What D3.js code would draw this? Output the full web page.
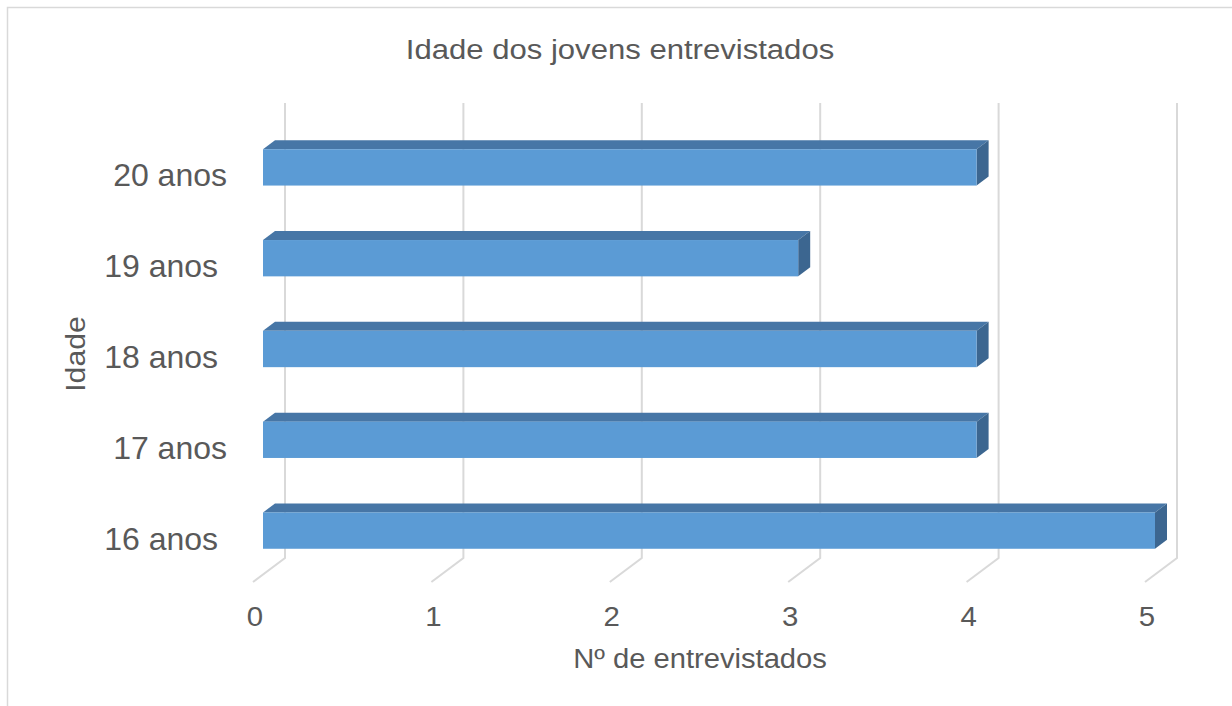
<!DOCTYPE html>
<html>
<head>
<meta charset="utf-8">
<script src="https://cdn.jsdelivr.net/npm/d3@7"></script>
<style>
  html, body { margin: 0; padding: 0; background: #fff; }
  svg { display: block; font-family: "Liberation Sans", Arial, sans-serif; }
</style>
</head>
<body>
<svg id="chart" width="1232" height="706"></svg>
<script>
// ---- data ----
const categories = ["16 anos", "17 anos", "18 anos", "19 anos", "20 anos"];
const categoryLabels = ["16 anos\u00a0", "17 anos", "18 anos\u00a0", "19 anos\u00a0", "20 anos"];
const values = [5, 4, 4, 3, 4];
const tickValues = [0, 1, 2, 3, 4, 5];
const chartTitle = "Idade dos jovens entrevistados";
const xTitle = "Nº de entrevistados";
const yTitle = "Idade";

// ---- layout ----
const svg = d3.select("#chart");
const textColor = "#595959";
const gridColor = "#d9d9d9";
const depthX = -32, depthY = 24;          // back wall -> front floor edge
const wallTop = 104, wallBottom = 558;

svg.append("rect").attr("x", 7.5).attr("y", 7.5).attr("width", 1240).attr("height", 720)
  .attr("fill", "#fff").attr("stroke", gridColor).attr("stroke-width", 1.5);

const x = d3.scaleLinear().domain([0, 5]).range([285, 1177]);
const y = d3.scaleBand().domain(categories.slice().reverse()).range([wallTop, wallBottom]);

// gridlines on back wall + floor diagonals
const grid = svg.append("g").attr("stroke", gridColor).attr("stroke-width", 2).attr("fill", "none");
tickValues.forEach(t => {
  const bx = x(t);
  grid.append("path").attr("d", `M${bx},${wallTop - 1}L${bx},${wallBottom}L${bx + depthX},${wallBottom + depthY}`);
});

// tick labels (front edge of floor)
svg.append("g").selectAll("text").data(tickValues).join("text")
  .attr("transform", d => `translate(${x(d) + depthX + 2},626) scale(1.05,1)`)
  .attr("text-anchor", "middle").attr("fill", textColor)
  .style("font-size", "28px").text(d => d);

// bars (3D)
const fFront = 22 / 32, fBack = 10 / 32;
const fx = depthX * fFront, fy = depthY * fFront;
const bxo = depthX * fBack, byo = depthY * fBack;
const barThick = y.bandwidth() * 0.4;
const bars = svg.append("g");
categories.forEach((c, i) => {
  const v = values[i];
  const top = y(c) + (y.bandwidth() - barThick) / 2 + 1.5;
  const x0f = x(0) + fx, x1f = x(v) + fx;
  const y0f = top + fy, y1f = top + fy + barThick;
  const x0b = x(0) + bxo, x1b = x(v) + bxo;
  const y0b = top + byo, y1b = top + byo + barThick;
  // top face
  bars.append("path").attr("d", `M${x0f},${y0f}L${x0b},${y0b}L${x1b},${y0b}L${x1f},${y0f}Z`)
    .attr("fill", "#4776a6");
  // side face
  bars.append("path").attr("d", `M${x1f},${y0f}L${x1b},${y0b}L${x1b},${y1b}L${x1f},${y1f}Z`)
    .attr("fill", "#3c6690");
  // front face
  bars.append("rect").attr("x", x0f).attr("y", y0f).attr("width", x1f - x0f).attr("height", barThick)
    .attr("fill", "#5b9bd5");
});

// category labels
svg.append("g").selectAll("text").data(categories).join("text")
  .attr("x", 227)
  .attr("y", d => y(d) + y.bandwidth() / 2 + depthY + 13)
  .attr("text-anchor", "end").attr("fill", textColor)
  .style("font-size", "32px")
  .text((d, i) => categoryLabels[i]);

// titles
svg.append("text").attr("transform", "translate(620,59) scale(1.11,1)")
  .attr("text-anchor", "middle").attr("fill", textColor).style("font-size", "28px").text(chartTitle);
svg.append("text").attr("transform", "translate(700,668) scale(1.08,1)")
  .attr("text-anchor", "middle").attr("fill", textColor).style("font-size", "27px").text(xTitle);
svg.append("text").attr("transform", "translate(85,354) rotate(-90) scale(1.08,1)")
  .attr("text-anchor", "middle").attr("fill", textColor).style("font-size", "28px").text(yTitle);
</script>
</body>
</html>
